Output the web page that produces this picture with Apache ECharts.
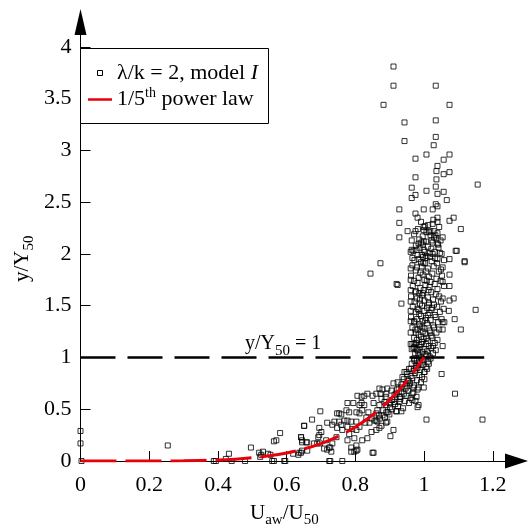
<!DOCTYPE html>
<html><head><meta charset="utf-8">
<script src="https://cdn.jsdelivr.net/npm/echarts@6/dist/echarts.min.js"></script>
<style>html,body{margin:0;padding:0;background:#fff}#c{width:529px;height:527px}</style>
</head><body><div id="c"></div>
<script>
const xTicks = [0, 0.2, 0.4, 0.6, 0.8, 1, 1.2];
const yTicks = [0, 0.5, 1, 1.5, 2, 2.5, 3, 3.5, 4];

// sparse high points
const ptsHigh = [[0.911,3.81],[0.911,3.625],[1.034,3.625],[0.882,3.44],[1.074,3.44],[0.943,3.27],[1.034,3.29],[0.943,3.09],[1.034,3.13],[1.028,3.05],[1.007,2.96],[0.975,2.92],[1.057,2.91],[1.074,2.96],[1.039,2.85],[1.036,2.80],[1.074,2.79],[1.057,2.77],[0.975,2.74],[1.036,2.72],[1.156,2.67],[0.964,2.64],[1.034,2.65],[1.007,2.61],[0.975,2.57],[0.964,2.54],[1.039,2.58],[1.057,2.60],[1.066,2.52],[1.034,2.48],[1.039,2.46],[1.025,2.43],[0.928,2.43],[0.999,2.43],[0.975,2.39],[0.981,2.35],[1.039,2.35],[1.039,2.31],[1.086,2.35],[1.074,2.32],[0.928,2.30],[1.025,2.29],[0.999,2.26],[0.999,2.23],[1.107,2.24],[0.952,2.22],[0.975,2.22],[1.007,2.21],[1.028,2.22],[1.039,2.20],[1.019,2.18],[0.928,2.16],[1.054,2.16],[1.036,2.15],[0.964,2.13],[1.022,2.13],[0.999,2.12],[0.984,2.10],[0.996,2.09],[1.039,2.10],[1.025,2.11],[1.042,2.06],[0.964,2.04],[0.999,2.04],[0.978,2.04],[1.031,2.02],[1.092,2.03],[0.961,2.02],[1.051,2.00],[0.993,1.99],[1.025,2.00],[1.007,1.98],[0.966,1.96],[0.984,1.95],[1.074,1.95],[1.039,1.95],[1.118,1.93]];

// middle band around the column
const ptsMid = [[0.873,1.91],[0.844,1.81],[0.923,1.70],[0.934,1.52],[1.150,1.46],[1.107,1.27],[1.089,1.37],[1.086,1.57],[1.074,1.55],[1.074,1.80],[1.074,1.69],[1.072,1.45],[0.961,1.86],[0.961,1.75],[0.961,1.65],[0.961,1.54],[0.961,1.45],[0.961,1.35],[0.961,1.24],[0.961,1.13],[0.964,1.08],[0.972,1.13],[0.972,1.35],[0.975,1.27],[0.975,1.63],[0.978,1.08],[1.054,1.11],[1.054,1.34],[1.059,1.34],[1.054,1.57],[1.054,1.73],[1.054,1.87],[1.054,1.27],[1.095,2.03],[1.118,1.92],[0.920,1.71]];

// dense column near U/U50 = 1 (irregular)
const ptsColumn = [
[0.991,2.31],[1.012,2.28],[1.027,2.33],
[0.982,2.24],[1.003,2.27],[1.018,2.22],[1.044,2.26],
[0.971,2.19],[0.996,2.17],[1.014,2.21],[1.033,2.18],
[0.986,2.14],[1.006,2.12],[1.029,2.16],[1.048,2.13],
[0.976,2.08],[0.992,2.11],[1.011,2.07],[1.041,2.09],
[0.969,2.03],[0.987,2.06],[1.002,2.02],[1.021,2.05],[1.046,2.01],
[0.981,1.99],[0.997,1.97],[1.016,2.01],[1.032,1.96],
[0.972,1.94],[0.991,1.92],[1.004,1.96],[1.022,1.93],[1.038,1.91],[1.058,1.94],
[0.966,1.89],[0.979,1.87],[0.998,1.91],[1.011,1.86],[1.028,1.88],[1.049,1.85],
[0.976,1.84],[0.989,1.82],[1.006,1.83],[1.024,1.81],[1.043,1.83],
[0.962,1.79],[0.984,1.77],[0.996,1.80],[1.014,1.78],[1.036,1.76],[1.052,1.79],
[0.971,1.74],[0.981,1.72],[1.001,1.75],[1.019,1.73],[1.031,1.71],[1.048,1.74],
[0.967,1.69],[0.989,1.67],[1.004,1.70],[1.016,1.68],[1.039,1.66],[1.058,1.69],
[0.976,1.64],[0.986,1.62],[0.999,1.65],[1.021,1.63],[1.034,1.61],
[0.962,1.59],[0.979,1.57],[0.994,1.60],[1.011,1.58],[1.026,1.56],[1.044,1.59],
[0.972,1.54],[0.988,1.52],[1.001,1.55],[1.014,1.53],[1.029,1.51],[1.049,1.54],
[0.967,1.49],[0.981,1.47],[0.994,1.50],[1.009,1.48],[1.021,1.46],[1.038,1.49],[1.057,1.47],
[0.976,1.44],[0.986,1.42],[1.001,1.45],[1.016,1.43],[1.031,1.41],[1.046,1.44],
[0.962,1.39],[0.979,1.37],[0.991,1.40],[1.006,1.38],[1.019,1.36],[1.034,1.39],[1.051,1.37],
[0.971,1.34],[0.986,1.32],[0.996,1.35],[1.009,1.33],[1.026,1.31],[1.041,1.34],
[0.966,1.29],[0.981,1.27],[0.989,1.30],[1.001,1.28],[1.016,1.26],[1.029,1.29],[1.044,1.27],
[0.976,1.24],[0.984,1.22],[0.996,1.25],[1.004,1.23],[1.021,1.21],[1.036,1.24],
[0.971,1.19],[0.979,1.17],[0.991,1.20],[0.999,1.18],[1.011,1.16],[1.024,1.19],[1.039,1.17],
[0.976,1.14],[0.986,1.12],[0.994,1.15],[1.006,1.13],[1.014,1.11],[1.031,1.14],
[0.969,1.09],[0.981,1.07],[0.989,1.10],[1.001,1.08],[1.009,1.06],[1.021,1.09],[1.034,1.07],
[0.974,1.04],[0.986,1.02],[0.996,1.05],[1.004,1.03],[1.016,1.01],[1.026,1.04],
[0.971,0.99],[0.979,0.97],[0.991,1.00],[0.999,0.98],[1.011,0.96],[1.019,0.99],
[0.964,0.94],[0.976,0.92],[0.984,0.95],[0.996,0.93],[1.006,0.91],[1.014,0.94],
[0.956,0.89],[0.969,0.87],[0.981,0.90],[0.989,0.88],[1.001,0.86],[1.009,0.89],
[0.951,0.84],[0.961,0.82],[0.974,0.85],[0.986,0.83],[0.994,0.81],
[0.941,0.79],[0.954,0.77],[0.966,0.80],[0.979,0.78],[0.991,0.76],[1.001,0.79],
[0.934,0.74],[0.951,0.72],[0.959,0.75],[0.971,0.73],[0.984,0.71],
[0.921,0.69],[0.934,0.67],[0.946,0.70],[0.954,0.68],[0.969,0.66],[0.981,0.69],
[0.914,0.64],[0.929,0.62],[0.941,0.65],[0.949,0.63],[0.961,0.61],
[0.906,0.59],[0.914,0.57],[0.931,0.60],[0.944,0.58],[0.956,0.56],
[0.889,0.54],[0.901,0.52],[0.916,0.55],[0.924,0.53],[0.939,0.51],
[0.881,0.49],[0.894,0.47],[0.906,0.50],[0.919,0.48],
[0.869,0.44],[0.886,0.42],[0.899,0.45],
[0.856,0.39],[0.871,0.41],[0.889,0.37],
// extra density in the core
[0.993,1.88],[1.008,1.74],[0.997,1.62],[1.013,1.51],[0.984,1.46],[1.003,1.36],[1.018,1.24],[0.992,1.13],[1.007,1.02],[1.013,1.65],
[0.988,1.56],[1.024,1.48],[1.011,1.41],[0.995,1.29],[1.007,1.19],[1.026,1.11],[0.983,1.04],[0.995,0.97],[1.003,1.91],[1.017,1.97]
];

// lower curve band
const ptsLow = [[0.966,1.13],[0.972,1.10],[0.949,0.86],[0.961,0.89],[0.972,0.97],[0.978,0.90],[0.987,0.94],[1.001,0.86],[0.999,0.71],[1.007,0.40],[0.984,0.54],[0.975,0.58],[0.978,0.62],[0.966,0.65],[0.969,0.71],[0.955,0.78],[0.943,0.86],[0.949,0.75],[0.934,0.71],[0.937,0.81],[0.923,0.76],[0.911,0.75],[0.926,0.70],[0.920,0.65],[0.931,0.62],[0.934,0.48],[0.920,0.48],[0.928,0.57],[0.908,0.59],[0.899,0.56],[0.890,0.65],[0.893,0.70],[0.905,0.68],[0.879,0.69],[0.873,0.65],[0.888,0.62],[0.876,0.60],[0.870,0.54],[0.864,0.49],[0.861,0.46],[0.879,0.44],[0.890,0.47],[0.911,0.30],[0.902,0.24],[0.876,0.34],[0.870,0.32],[0.861,0.30],[0.864,0.38],[0.853,0.56],[0.850,0.63],[0.847,0.41],[0.838,0.47],[0.832,0.42],[0.841,0.37],[0.826,0.54],[0.818,0.56],[0.820,0.49],[0.806,0.63],[0.812,0.46],[0.803,0.47],[0.803,0.38],[0.812,0.33],[0.803,0.30],[0.791,0.31],[0.788,0.38],[0.797,0.22],[0.806,0.11],[0.797,0.09],[0.788,0.13],[0.777,0.20],[0.820,0.20],[0.835,0.22],[0.850,0.08],[0.812,0.54],[0.794,0.56],[0.777,0.56],[0.774,0.49],[0.782,0.47],[0.777,0.39],[0.768,0.39],[0.759,0.35],[0.747,0.32],[0.762,0.30],[0.753,0.38],[0.739,0.38],[0.733,0.35],[0.745,0.23],[0.733,0.17],[0.724,0.13],[0.718,0.11],[0.730,0.09],[0.724,0.0],[0.709,0.12],[0.715,0.20],[0.701,0.28],[0.695,0.25],[0.689,0.17],[0.680,0.17],[0.674,0.40],[0.698,0.48],[0.651,0.34],[0.642,0.23],[0.645,0.20],[0.660,0.18],[0.637,0.08],[0.593,0.0],[0.753,0.46],[0.747,0.46],[0.759,0.45],[0.818,0.62],[0.826,0.63],[0.835,0.65],[0.861,0.65],[0.870,0.70],[0.885,0.57],[0.847,0.28],[0.829,0.37],[0.893,0.38],[0.861,0.39],[0.777,0.33],[0.782,0.26],[0.803,0.15],[0.788,0.09],[0.718,0.37],[0.695,0.32],[0.692,0.23],[0.697,0.17],[0.727,0.13],[0.727,0.0],[0.981,0.52],[0.966,0.59],[1.051,0.84],[1.17,0.40],[1.09,0.65]];

// points near the axis
const ptsBottom = [[0,0.29],[0,0.17],[0.003,0.0],[0.254,0.15],[0.388,0.0],[0.394,0.0],[0.432,0.07],[0.423,0.02],[0.44,0.0],[0.479,0.0],[0.496,0.13],[0.520,0.08],[0.523,0.04],[0.531,0.09],[0.546,0.07],[0.526,0.06],[0.558,0.0],[0.563,0.0],[0.563,0.19],[0.581,0.27],[0.596,0.0],[0.619,0.07],[0.634,0.06],[0.642,0.08],[0.645,0.10],[0.651,0.34],[0.642,0.23],[0.645,0.18],[0.657,0.18],[0.660,0.10],[0.57,0.20],[0.553,0.06],[0.762,0.0],[0.803,0.10],[0.853,0.08]];

// 1/5th power law curve
const lawX = [0, 0.1, 0.2, 0.3, 0.4, 0.45, 0.5, 0.55, 0.6, 0.65, 0.7, 0.75, 0.8, 0.85, 0.9, 0.95, 1.0];
const lawY = [0, 0.00001, 0.0003, 0.0024, 0.0102, 0.018, 0.031, 0.050, 0.078, 0.116, 0.168, 0.237, 0.328, 0.444, 0.590, 0.774, 1.0];

// reference line y/Y50 = 1
const refX = [0, 1.175];
const refY = [1, 1];

const FONT = 'Liberation Serif';
const chart = echarts.init(document.getElementById('c'), null, {renderer: 'canvas'});
const scatterData = ptsHigh.concat(ptsMid, ptsColumn, ptsLow, ptsBottom);

chart.setOption({
  animation: false,
  backgroundColor: '#fff',
  grid: {left: 80.5, right: 12.5, top: 22, bottom: 66},
  xAxis: {
    type: 'value', min: 0, max: 1.269,
    splitLine: {show: false},
    axisLine: {onZero: false, lineStyle: {color: '#000', width: 1}, symbol: ['none', 'triangle'], symbolSize: [15, 23]},
    axisTick: {inside: true, length: 10, lineStyle: {color: '#000', width: 1}, customValues: xTicks},
    axisLabel: {customValues: xTicks, color: '#000', fontFamily: FONT, fontSize: 22, margin: 13}
  },
  yAxis: {
    type: 'value', min: 0, max: 4.24,
    splitLine: {show: false},
    axisLine: {onZero: false, lineStyle: {color: '#000', width: 1}, symbol: ['none', 'triangle'], symbolSize: [12, 26]},
    axisTick: {inside: true, length: 10, lineStyle: {color: '#000', width: 1}, customValues: yTicks},
    axisLabel: {customValues: yTicks, color: '#000', fontFamily: FONT, fontSize: 22, margin: 9}
  },
  series: [
    {
      type: 'scatter', data: scatterData, symbol: 'rect', symbolSize: 5,
      itemStyle: {color: 'rgba(255,255,255,0)', borderColor: '#000', borderWidth: 1},
      z: 2
    },
    {
      type: 'line', data: refX.map((x, i) => [x, refY[i]]), symbol: 'none',
      lineStyle: {color: '#000', width: 2.5, type: [35, 12]}, z: 3
    },
    {
      type: 'line', data: lawX.map((x, i) => [x, lawY[i]]), symbol: 'none', smooth: 0.3,
      lineStyle: {color: '#e8000b', width: 3, type: [36, 9]}, z: 4
    }
  ],
  graphic: [
    {type: 'rect', shape: {x: 80.5, y: 48.5, width: 188, height: 75}, style: {fill: '#fff', stroke: '#000', lineWidth: 1}, z: 10},
    {type: 'rect', shape: {x: 97.5, y: 70.5, width: 5, height: 5}, style: {fill: 'rgba(0,0,0,0)', stroke: '#000', lineWidth: 1}, z: 11},
    {type: 'line', shape: {x1: 88, y1: 99.5, x2: 112, y2: 99.5}, style: {stroke: '#e8000b', lineWidth: 2.5}, z: 11},
    {type: 'text', x: 117, y: 73, z: 11, style: {
      text: '{a|λ/k = 2, model }{i|I}', verticalAlign: 'middle',
      rich: {a: {fontFamily: FONT, fontSize: 22, fill: '#000'}, i: {fontFamily: FONT, fontSize: 22, fontStyle: 'italic', fill: '#000'}}
    }},
    {type: 'text', x: 117, y: 99, z: 11, style: {
      text: '{a|1/5}{s|th}{a| power law}', verticalAlign: 'middle',
      rich: {a: {fontFamily: FONT, fontSize: 22, lineHeight: 26, fill: '#000'}, s: {fontFamily: FONT, fontSize: 14, lineHeight: 26, verticalAlign: 'top', fill: '#000'}}
    }},
    {type: 'text', x: 245, y: 344, z: 11, style: {
      text: '{a|y/Y}{s|50}{a| = 1}', verticalAlign: 'middle',
      rich: {a: {fontFamily: FONT, fontSize: 20, lineHeight: 24, fill: '#000'}, s: {fontFamily: FONT, fontSize: 15, lineHeight: 24, verticalAlign: 'bottom', padding: [0,0,-3,0], fill: '#000'}}
    }},
    {type: 'text', x: 250, y: 513, z: 11, style: {
      text: '{a|U}{s|aw}{a|/U}{s|50}', verticalAlign: 'middle',
      rich: {a: {fontFamily: FONT, fontSize: 21, lineHeight: 24, fill: '#000'}, s: {fontFamily: FONT, fontSize: 15, lineHeight: 24, verticalAlign: 'bottom', padding: [0,0,-3,0], fill: '#000'}}
    }},
    {type: 'text', x: 22, y: 282, rotation: Math.PI / 2, z: 11, style: {
      text: '{a|y/Y}{s|50}', verticalAlign: 'middle',
      rich: {a: {fontFamily: FONT, fontSize: 21, lineHeight: 24, fill: '#000'}, s: {fontFamily: FONT, fontSize: 15, lineHeight: 24, verticalAlign: 'bottom', padding: [0,0,-3,0], fill: '#000'}}
    }}
  ]
});
</script></body></html>
